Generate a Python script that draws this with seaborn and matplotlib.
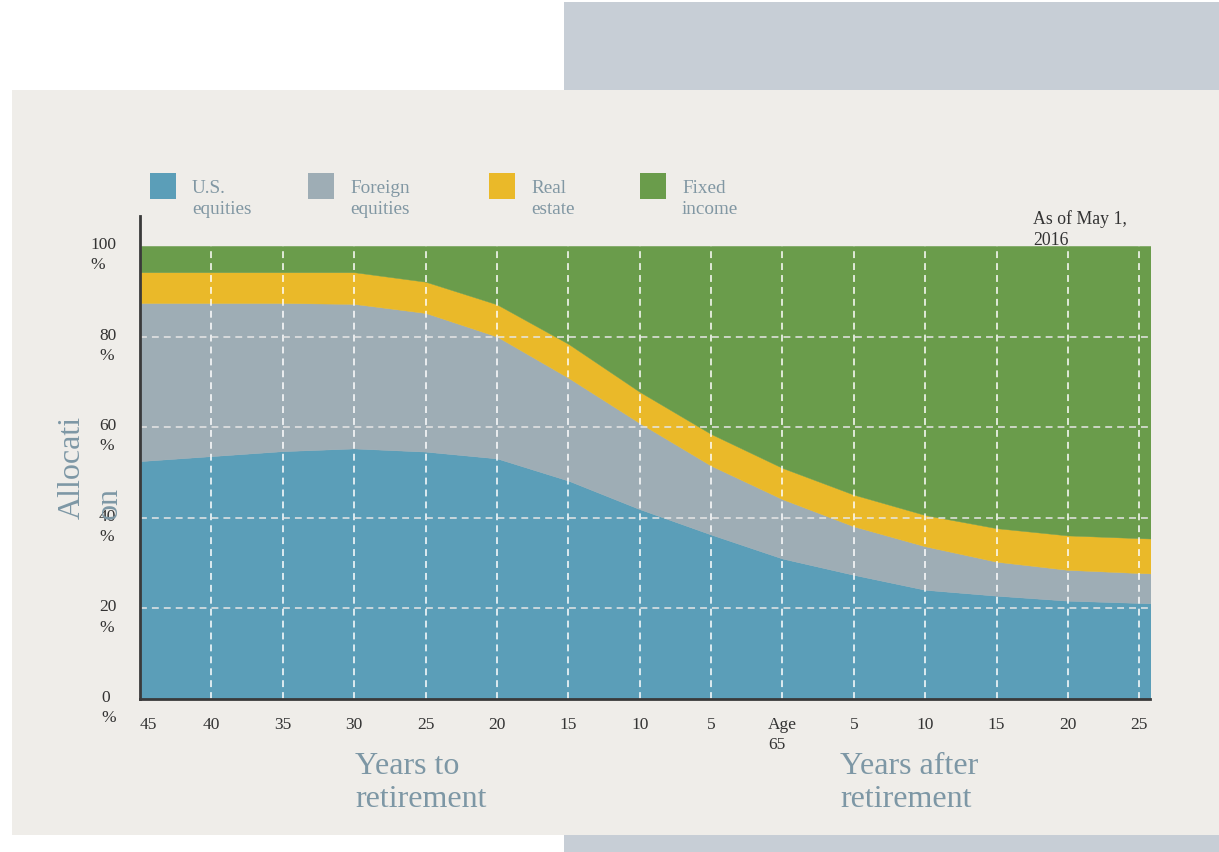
import matplotlib
matplotlib.use("Agg")
import numpy as np
import pandas as pd
import seaborn as sns
import matplotlib.pyplot as plt
from matplotlib.patches import Rectangle
from matplotlib.transforms import ScaledTranslation

# Years relative to retirement (negative = before, 0 = age 65)
years = [-45, -40, -35, -30, -25, -20, -15, -10, -5, 0, 5, 10, 15, 20, 25, 26]

# Allocation by asset class, in percent
us_equities = [52.5, 53.6, 54.7, 55.3, 54.6, 53.1, 48.2, 41.9, 36.3, 31.0, 27.4, 24.1, 22.8, 21.7, 21.2, 21.1]
foreign_equities = [34.9, 33.8, 32.7, 31.9, 30.6, 26.9, 22.7, 19.0, 15.2, 13.1, 10.7, 9.6, 7.5, 6.8, 6.6, 6.6]
real_estate = [6.8, 6.8, 6.8, 7.0, 6.9, 7.1, 7.5, 6.9, 7.0, 6.9, 7.0, 6.9, 7.4, 7.6, 7.7, 7.7]
fixed_income = [5.8, 5.8, 5.8, 5.8, 7.9, 12.9, 21.6, 32.2, 41.5, 49.0, 54.9, 59.4, 62.3, 63.9, 64.5, 64.6]

series_names = ["U.S.\nequities", "Foreign\nequities", "Real\nestate", "Fixed\nincome"]
series_colors = ["#5b9eb8", "#9eadb5", "#eab929", "#6a9c4b"]

tick_years = [-45, -40, -35, -30, -25, -20, -15, -10, -5, 0, 5, 10, 15, 20, 25]
tick_labels = ["45", "40", "35", "30", "25", "20", "15", "10", "5", "Age\n65",
               "5", "10", "15", "20", "25"]
y_ticks = [0, 20, 40, 60, 80, 100]
y_labels = [f"{v}\n%" for v in y_ticks]

df = pd.DataFrame({"year": years, "us": us_equities, "foreign": foreign_equities,
                   "re": real_estate, "fixed": fixed_income})

sns.set_theme(style="white")
plt.rcParams["font.family"] = ["Liberation Serif", "DejaVu Serif"]

W, H = 1219, 853
fig = plt.figure(figsize=(W / 100, H / 100), dpi=100)
fig.patch.set_facecolor("white")


def px_rect(x0, y0, x1, y1, color):
    fig.add_artist(Rectangle((x0 / W, 1 - y1 / H), (x1 - x0) / W, (y1 - y0) / H,
                             transform=fig.transFigure, facecolor=color,
                             edgecolor="none", zorder=0))


# page decoration: grey-blue blocks and the beige panel
px_rect(564, 3, W, 91, "#c7ced6")
px_rect(564, 836, W, H, "#c7ced6")
px_rect(12, 91, W, 836, "#efede9")

ax_left, ax_right, ax_top, ax_bottom = 140, 1150, 217, 700
ax = fig.add_axes([ax_left / W, 1 - ax_bottom / H, (ax_right - ax_left) / W,
                   (ax_bottom - ax_top) / H])
ax.patch.set_alpha(0)

ax.stackplot(df["year"], df["us"], df["foreign"], df["re"], df["fixed"],
             colors=series_colors, edgecolor="face", linewidth=0.3, zorder=1)

ax.set_xlim(-45, 25.75)
ax.set_ylim(0, 106.6)

# dashed grid over the areas
ax.vlines(tick_years[1:], 0, 100, colors="white", linestyles=(0, (4.5, 3.3)),
          linewidth=1.1, zorder=2)
ax.hlines([20, 40, 60, 80], -45, 25.75, colors="#e6e6e6",
          linestyles=(0, (4.5, 3.3)), linewidth=1.1, zorder=2)

for side in ["top", "right"]:
    ax.spines[side].set_visible(False)
for side in ["left", "bottom"]:
    ax.spines[side].set_color("#3a3a3a")
    ax.spines[side].set_linewidth(2)
    ax.spines[side].set_zorder(3)

ax.set_xticks(tick_years)
ax.set_xticklabels(tick_labels)
ax.set_yticks(y_ticks)
ax.set_yticklabels(y_labels)
ax.tick_params(axis="x", length=0, pad=12, labelsize=12.5, labelcolor="#333333")
ax.tick_params(axis="y", length=0, pad=17, labelsize=12.5, labelcolor="#333333")
for lab in ax.get_xticklabels():
    lab.set_multialignment("left")
    lab.set_linespacing(1.35)
ax.get_xticklabels()[0].set_horizontalalignment("left")
for lab in ax.get_yticklabels():
    lab.set_multialignment("left")
    lab.set_linespacing(1.35)
    lab.set_transform(lab.get_transform() + ScaledTranslation(0, -4 / 100, fig.dpi_scale_trans))

# legend
legend_x = [150, 308, 489, 640]
for x0, name, col in zip(legend_x, series_names, series_colors):
    px_rect(x0, 174, x0 + 26, 200, col)
    fig.text((x0 + 42) / W, 1 - 180 / H, name, ha="left", va="top", fontsize=13.8,
             color="#8197a3", linespacing=1.3)

fig.text(1033 / W, 1 - 210 / H, "As of May 1,\n2016", ha="left", va="top",
         fontsize=12.8, color="#333333", linespacing=1.35)

label_color = "#7d97a5"
fig.text(355 / W, 1 - 752 / H, "Years to\nretirement", ha="left", va="top",
         fontsize=23, color=label_color, linespacing=1.2)
fig.text(840 / W, 1 - 752 / H, "Years after\nretirement", ha="left", va="top",
         fontsize=23, color=label_color, linespacing=1.2)
fig.text(58 / W, 1 - 519 / H, "Allocati\non", rotation=90, rotation_mode="anchor",
         ha="left", va="top", multialignment="left", fontsize=23,
         color=label_color, linespacing=1.35)

fig.savefig("out.png", dpi=100, facecolor="white")
